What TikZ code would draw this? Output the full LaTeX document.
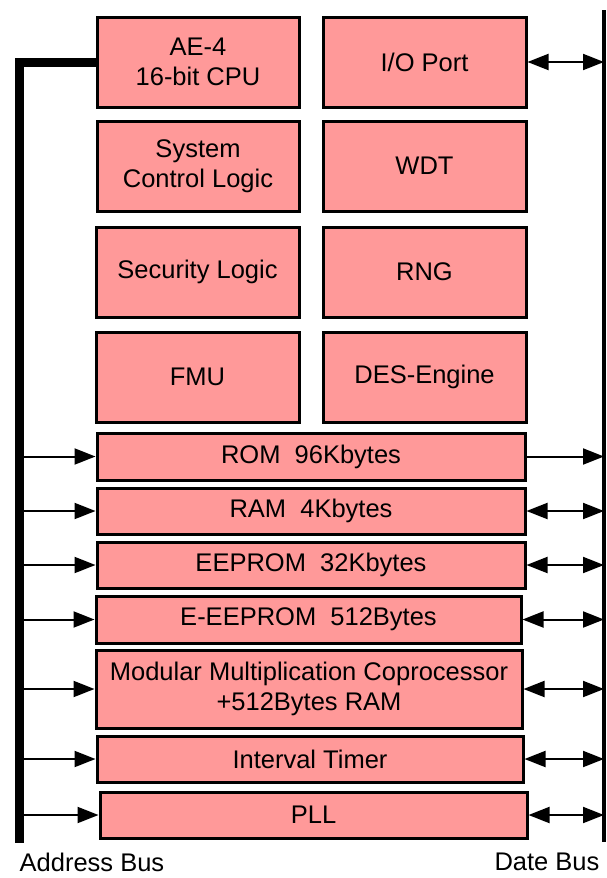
\documentclass[tikz,border=0pt]{standalone}
\usepackage{fontspec}
\setmainfont{Liberation Sans}
\usepackage{xcolor}
\usetikzlibrary{arrows.meta}

\definecolor{blockpink}{RGB}{255,153,153}

\begin{document}
\begin{tikzpicture}[x=1pt,y=-1pt,
    block/.style={draw=black,line width=3pt,fill=blockpink,inner sep=0pt,
        align=center,font=\fontsize{25.5}{30}\selectfont},
    bus/.style={line width=#1},
    link/.style={line width=2pt,-{Triangle[length=21pt,width=16pt]}},
    duplex/.style={line width=2pt,{Triangle[length=21pt,width=16pt]}-{Triangle[length=21pt,width=16pt]}},
    buslabel/.style={font=\fontsize{25.5}{28}\selectfont}]
        \useasboundingbox (0,0) rectangle (606,878);

        % Upper blocks, two columns
        \node[block,minimum width=202pt,minimum height=90pt] (cpu) at (198,62) {AE-4\\16-bit CPU};
        \node[block,minimum width=203pt,minimum height=90pt] (io) at (424.5,62) {I/O Port};
        \node[block,minimum width=202pt,minimum height=90pt] (sys) at (198,166) {System\\Control Logic};
        \node[block,minimum width=203pt,minimum height=90pt] (wdt) at (424.5,166) {WDT};
        \node[block,minimum width=203pt,minimum height=90pt] (sec) at (197.5,272) {Security Logic};
        \node[block,minimum width=203pt,minimum height=90pt] (rng) at (424.5,272) {RNG};
        \node[block,minimum width=203pt,minimum height=90pt] (fmu) at (197.5,377) {FMU};
        \node[block,minimum width=203pt,minimum height=90pt] (des) at (424.5,377) {DES-Engine};

        % Wide blocks
        \node[block,minimum width=428pt,minimum height=47pt] (rom) at (311,456.5) {ROM\ \ 96Kbytes};
        \node[block,minimum width=428pt,minimum height=46pt] (ram) at (311,511) {RAM\ \ 4Kbytes};
        \node[block,minimum width=428pt,minimum height=46pt] (eeprom) at (311,565) {EEPROM\ \ 32Kbytes};
        \node[block,minimum width=425pt,minimum height=47pt] (eeeprom) at (308.5,619.5) {E-EEPROM\ \ 512Bytes};
        \node[block,minimum width=426pt,minimum height=78pt] (mmc) at (309,689) {Modular Multiplication Coprocessor\\+512Bytes RAM};
        \node[block,minimum width=426pt,minimum height=46pt] (timer) at (310,759) {Interval Timer};
        \node[block,minimum width=427pt,minimum height=46pt] (pll) at (313.5,815) {PLL};

        % Buses
        \coordinate (ab) at (19,843);
        \coordinate (db) at (604,842);
        \coordinate (dbtop) at (604,10);
        \draw[bus=9pt] (cpu.west) -| (ab);
        \draw[bus=4pt] (dbtop) -- (db);

        % Address bus to blocks
        \foreach \blk in {rom,ram,eeprom,eeeprom,mmc,timer,pll}
            \draw[link] (ab |- \blk.west) -- (\blk.west);

        % Blocks to data bus
        \draw[duplex] (io.east) -- (db |- io.east);
        \draw[link] (rom.east) -- (db |- rom.east);
        \foreach \blk in {ram,eeprom,eeeprom,mmc,timer,pll}
            \draw[duplex] (\blk.east) -- (db |- \blk.east);

        % Labels
        \node[buslabel] (ablabel) at (92,862) {Address Bus};
        \node[buslabel] (dblabel) at (547,862) {Date Bus};
    \end{tikzpicture}
\end{document}
